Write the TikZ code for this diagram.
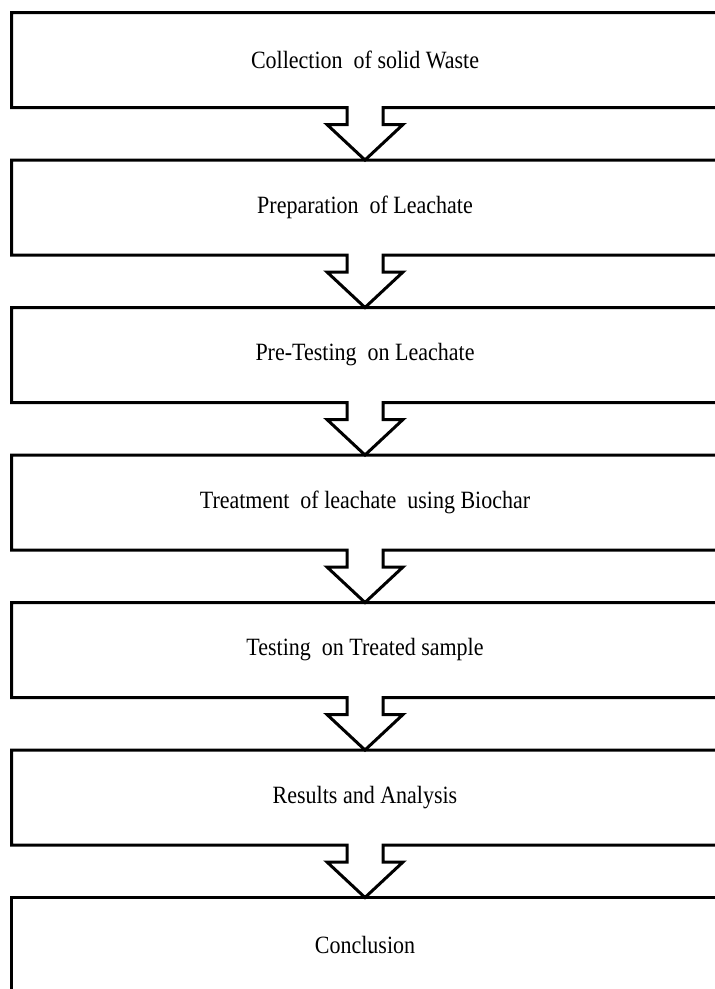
\documentclass[tikz,border=0pt]{standalone}
\usepackage{fontspec}
\setmainfont{Liberation Serif}
\newcommand{\tallt}[1]{\scalebox{1}[1.13]{#1}}
\begin{document}
\begin{tikzpicture}[x=1pt,y=-1pt,
  stepbox/.style={rectangle,draw=none,minimum width=707pt,minimum height=95pt,inner sep=0pt,outer sep=0pt,font=\fontsize{22}{26}\selectfont},
  outline/.style={draw=black,line width=3pt,line join=miter}]
\useasboundingbox (0,0) rectangle (715,989);
\clip (0,0) rectangle (715,989);
\node[stepbox] (b1) at (365,60) {\tallt{Collection\ \ of solid Waste}};
\node[stepbox] (b2) at (365,207.5) {\tallt{Preparation\ \ of Leachate}};
\node[stepbox] (b3) at (365,355) {\tallt{Pre-Testing\ \ on Leachate}};
\node[stepbox] (b4) at (365,502.5) {\tallt{Treatment\ \ of leachate\ \ using Biochar}};
\node[stepbox] (b5) at (365,650) {\tallt{Testing\ \ on Treated sample}};
\node[stepbox] (b6) at (365,797.5) {\tallt{Results and Analysis}};
\node[stepbox] (b7) at (365,945) {\tallt{Conclusion}};
\foreach \a/\b in {b1/b2,b2/b3,b3/b4,b4/b5,b5/b6,b6/b7}{
  \draw[outline] ([xshift=-18pt]\a.south) -- (\a.south west) -- (\a.north west) -- (\a.north east) -- (\a.south east) -- ([xshift=18pt]\a.south)
    -- ++(0,17) -- ++(20,0) -- (\b.north) -- ([xshift=-38pt,yshift=-17pt]\a.south) -- ([xshift=-18pt,yshift=-17pt]\a.south) -- cycle;
}
\draw[outline] (b7.south west) rectangle (b7.north east);
\end{tikzpicture}
\end{document}
